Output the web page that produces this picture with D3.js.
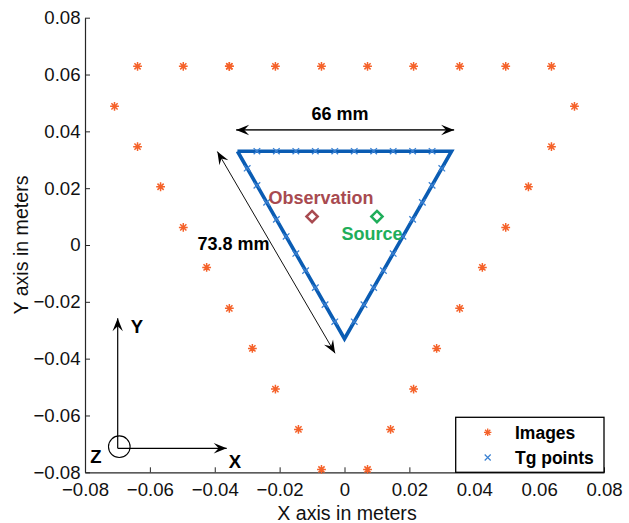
<!DOCTYPE html>
<html>
<head>
<meta charset="utf-8">
<script src="https://cdn.jsdelivr.net/npm/d3@7"></script>
<style>
  html, body { margin: 0; padding: 0; background: #fff; }
  svg { display: block; font-family: "Liberation Sans", Arial, Helvetica, sans-serif; }
</style>
</head>
<body>
<svg id="chart" width="629" height="523"></svg>
<script>
// ---------- data ----------
const xTickValues = [-0.08, -0.06, -0.04, -0.02, 0, 0.02, 0.04, 0.06, 0.08];
const xTickLabels = ["\u22120.08", "\u22120.06", "\u22120.04", "\u22120.02", "0", "0.02", "0.04", "0.06", "0.08"];
const yTickValues = [-0.08, -0.06, -0.04, -0.02, 0, 0.02, 0.04, 0.06, 0.08];
const yTickLabels = ["\u22120.08", "\u22120.06", "\u22120.04", "\u22120.02", "0", "0.02", "0.04", "0.06", "0.08"];

// Image sources (orange asterisks)
const imagesX = [-0.0638, -0.0497, -0.0355, -0.0355, -0.0213, -0.0071, 0.0071, 0.0213, 0.0355, 0.0497, 0.0638,
                 -0.0709, -0.0638, -0.0567, -0.0497, -0.0425, -0.0355, -0.0284, -0.0213, -0.0142, -0.0071,
                  0.0709,  0.0638,  0.0567,  0.0497,  0.0425,  0.0355,  0.0284,  0.0213,  0.0142,  0.0071];
const imagesY = [0.0629, 0.0629, 0.0629, 0.0629, 0.0629, 0.0629, 0.0629, 0.0629, 0.0629, 0.0629, 0.0629,
                 0.0488, 0.0346, 0.0205, 0.0062, -0.0079, -0.0223, -0.0364, -0.0507, -0.0649, -0.0790,
                 0.0488, 0.0346, 0.0205, 0.0062, -0.0079, -0.0223, -0.0364, -0.0507, -0.0649, -0.0790];

// Triangle outline (closed)
const triX = [-0.033, 0.033, 0, -0.033];
const triY = [0.033, 0.033, -0.033, 0.033];

// Tg points (blue crosses)
const tgX = [-0.027, -0.021, -0.015, -0.009, -0.003, 0.003, 0.009, 0.015, 0.021, 0.027,
             -0.030, -0.027, -0.024, -0.021, -0.018, -0.015, -0.012, -0.009, -0.006, -0.003,
              0.030,  0.027,  0.024,  0.021,  0.018,  0.015,  0.012,  0.009,  0.006,  0.003];
const tgY = [0.033, 0.033, 0.033, 0.033, 0.033, 0.033, 0.033, 0.033, 0.033, 0.033,
             0.027, 0.021, 0.015, 0.009, 0.003, -0.003, -0.009, -0.015, -0.021, -0.027,
             0.027, 0.021, 0.015, 0.009, 0.003, -0.003, -0.009, -0.015, -0.021, -0.027];

const observation = [-0.010, 0.010];
const source = [0.010, 0.010];

// Dimension annotations (data coordinates)
const widthArrow = [[-0.0334, 0.0405], [0.0338, 0.0405]];
const sideArrow = [[-0.0392, 0.0329], [-0.0029, -0.0381]];
const widthLabel = "66 mm";
const sideLabel = "73.8 mm";
const legendLabels = ["Images", "Tg points"];

// ---------- layout ----------
const svg = d3.select("#chart");
const x = d3.scaleLinear().domain([-0.08, 0.08]).range([85, 604]);
const y = d3.scaleLinear().domain([-0.08, 0.08]).range([472.3, 17.7]);

const axisColor = "#262626";
const orange = "#f5622a";
const lineBlue = "#0a5cb3";
const tgBlue = "#3a80d2";

// ---------- axes ----------
const gx = svg.append("g").attr("transform", `translate(0,${y(-0.08)})`)
  .call(d3.axisBottom(x).tickValues(xTickValues)
    .tickFormat((d, i) => xTickLabels[i]).tickSizeInner(-5).tickSizeOuter(0).tickPadding(10));
const gy = svg.append("g").attr("transform", `translate(${x(-0.08)},0)`)
  .call(d3.axisLeft(y).tickValues(yTickValues)
    .tickFormat((d, i) => yTickLabels[i]).tickSizeInner(-5).tickSizeOuter(0).tickPadding(4.5));
[gx, gy].forEach(g => {
  g.select(".domain").attr("stroke", axisColor).attr("stroke-width", 1.2);
  g.selectAll(".tick line").attr("stroke", axisColor).attr("stroke-width", 1);
  g.selectAll(".tick text").attr("fill", "#111").attr("font-size", 18.6)
    .attr("font-family", "'Liberation Sans', Arial, sans-serif");
});

svg.append("text").attr("x", 347).attr("y", 520).attr("text-anchor", "middle")
  .attr("font-size", 19.6).attr("fill", "#111").text("X axis in meters");
svg.append("text").attr("transform", `translate(28,${y(0)}) rotate(-90)`).attr("text-anchor", "middle")
  .attr("font-size", 19.6).attr("fill", "#111").text("Y axis in meters");

// ---------- markers ----------
function asterisk(r) {
  const p = d3.path();
  for (let k = 0; k < 4; k++) {
    const a = k * Math.PI / 4;
    p.moveTo(-r * Math.cos(a), -r * Math.sin(a));
    p.lineTo(r * Math.cos(a), r * Math.sin(a));
  }
  return p.toString();
}
function cross(rx, ry) {
  return `M${-rx},${-ry}L${rx},${ry}M${-rx},${ry}L${rx},${-ry}`;
}

// images
svg.append("g").selectAll("path").data(imagesX.map((d, i) => [d, imagesY[i]])).join("path")
  .attr("transform", d => `translate(${x(d[0])},${y(d[1])})`)
  .attr("d", asterisk(4.4)).attr("stroke", orange).attr("stroke-width", 1.5).attr("fill", "none");

// triangle
svg.append("path")
  .attr("d", d3.line().x(d => x(d[0])).y(d => y(d[1]))(triX.map((d, i) => [d, triY[i]])))
  .attr("fill", "none").attr("stroke", lineBlue).attr("stroke-width", 3.6).attr("stroke-linejoin", "miter");

// Tg points
svg.append("g").selectAll("path").data(tgX.map((d, i) => [d, tgY[i]])).join("path")
  .attr("transform", d => `translate(${x(d[0])},${y(d[1])})`)
  .attr("d", cross(3.3, 3.1)).attr("stroke", tgBlue).attr("stroke-width", 1.3).attr("fill", "none");

// observation & source diamonds
function diamond(r) { return `M0,${-r}L${r},0L0,${r}L${-r},0Z`; }
svg.append("path").attr("transform", `translate(${x(observation[0])},${y(observation[1])})`)
  .attr("d", diamond(5.6)).attr("fill", "none").attr("stroke", "#a84a50").attr("stroke-width", 2.5);
svg.append("path").attr("transform", `translate(${x(source[0])},${y(source[1])})`)
  .attr("d", diamond(5.6)).attr("fill", "none").attr("stroke", "#1fae5a").attr("stroke-width", 2.5);
svg.append("text").attr("x", 321).attr("y", 203.5).attr("text-anchor", "middle")
  .attr("font-size", 18).attr("font-weight", "bold").attr("fill", "#a84a50").text("Observation");
svg.append("text").attr("x", 372).attr("y", 240).attr("text-anchor", "middle")
  .attr("font-size", 18).attr("font-weight", "bold").attr("fill", "#1fae5a").text("Source");

// ---------- arrows ----------
function arrowHead(tip, from, len, half) {
  const ang = Math.atan2(tip[1] - from[1], tip[0] - from[0]);
  const c = Math.cos(ang), s = Math.sin(ang);
  const pt = (u, v) => [tip[0] + u * c - v * s, tip[1] + u * s + v * c];
  const a = pt(-len, -half), b = pt(-len * 0.62, 0), d = pt(-len, half);
  return `M${tip[0]},${tip[1]}L${a[0]},${a[1]}L${b[0]},${b[1]}L${d[0]},${d[1]}Z`;
}
function doubleArrow(seg, width, color) {
  const p0 = [x(seg[0][0]), y(seg[0][1])], p1 = [x(seg[1][0]), y(seg[1][1])];
  svg.append("line").attr("x1", p0[0]).attr("y1", p0[1]).attr("x2", p1[0]).attr("y2", p1[1])
    .attr("stroke", color).attr("stroke-width", width);
  svg.append("path").attr("d", arrowHead(p0, p1, 13, 5.2)).attr("fill", "#000");
  svg.append("path").attr("d", arrowHead(p1, p0, 13, 5.2)).attr("fill", "#000");
}
doubleArrow(widthArrow, 1.7, "#333");
doubleArrow(sideArrow, 1, "#111");
svg.append("text").attr("x", 340).attr("y", 120).attr("text-anchor", "middle")
  .attr("font-size", 18).attr("font-weight", "bold").attr("fill", "#000").text(widthLabel);
svg.append("text").attr("x", 233.5).attr("y", 250).attr("text-anchor", "middle")
  .attr("font-size", 18).attr("font-weight", "bold").attr("fill", "#000").text(sideLabel);

// ---------- coordinate frame inset ----------
const origin = [117.7, 448.3];
function singleArrow(p0, p1) {
  svg.append("line").attr("x1", p0[0]).attr("y1", p0[1]).attr("x2", p1[0]).attr("y2", p1[1])
    .attr("stroke", "#000").attr("stroke-width", 1.2);
  svg.append("path").attr("d", arrowHead(p1, p0, 13, 5.2)).attr("fill", "#000");
}
singleArrow(origin, [117.7, 318.3]);
singleArrow(origin, [226.7, 448.3]);
svg.append("circle").attr("cx", 119.3).attr("cy", 446.7).attr("r", 10.8)
  .attr("fill", "none").attr("stroke", "#000").attr("stroke-width", 1.1);
svg.append("text").attr("x", 137).attr("y", 333).attr("text-anchor", "middle")
  .attr("font-size", 18.5).attr("font-weight", "bold").text("Y");
svg.append("text").attr("x", 235).attr("y", 468).attr("text-anchor", "middle")
  .attr("font-size", 18.5).attr("font-weight", "bold").text("X");
svg.append("text").attr("x", 96).attr("y", 463).attr("text-anchor", "middle")
  .attr("font-size", 18.5).attr("font-weight", "bold").text("Z");

// ---------- legend ----------
const lg = svg.append("g");
lg.append("rect").attr("x", 455.7).attr("y", 417.3).attr("width", 148.3).attr("height", 55)
  .attr("fill", "#fff").attr("stroke", "#000").attr("stroke-width", 1.3);
lg.append("path").attr("transform", "translate(487.7,432.3)").attr("d", asterisk(3.7))
  .attr("stroke", orange).attr("stroke-width", 1.3).attr("fill", "none");
lg.append("path").attr("transform", "translate(487.7,457.5)").attr("d", cross(3, 3))
  .attr("stroke", tgBlue).attr("stroke-width", 1.2).attr("fill", "none");
lg.selectAll("text").data(legendLabels).join("text")
  .attr("x", 515).attr("y", (d, i) => 439 + i * 25)
  .attr("font-size", 17.5).attr("font-weight", "bold").attr("fill", "#000").text(d => d);
</script>
</body>
</html>
